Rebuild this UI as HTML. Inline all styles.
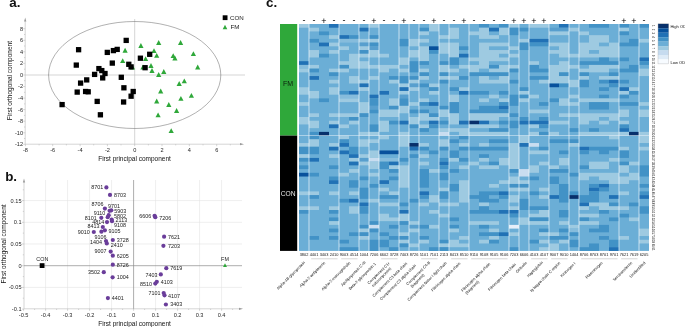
<!DOCTYPE html><html><head><meta charset="utf-8"><title>figure</title><style>html,body{margin:0;padding:0;background:#fff;}svg{display:block;will-change:transform;font-family:"Liberation Sans",sans-serif;}</style></head><body>
<svg width="685" height="327" viewBox="0 0 685 327">
<rect x="0" y="0" width="685" height="327" fill="#fff"/>
<g font-weight="bold" font-size="13.4px" fill="#111">
<text x="9.3" y="7.2">a.</text><text x="5.2" y="181">b.</text><text x="266" y="7.2">c.</text></g>
<g id="pa">
<g stroke="#b9b9b9" stroke-width="0.6" fill="none">
<line x1="25.2" y1="20" x2="25.2" y2="144.2"/>
<line x1="25.2" y1="144.2" x2="241" y2="144.2"/>
<line x1="25.2" y1="75.0" x2="245" y2="75.0"/>
<line x1="134.7" y1="19" x2="134.7" y2="144.2"/>
<line x1="23.2" y1="144.3" x2="25.2" y2="144.3"/>
<line x1="24.0" y1="138.5" x2="25.2" y2="138.5"/>
<line x1="23.2" y1="132.8" x2="25.2" y2="132.8"/>
<line x1="24.0" y1="127.0" x2="25.2" y2="127.0"/>
<line x1="23.2" y1="121.2" x2="25.2" y2="121.2"/>
<line x1="24.0" y1="115.4" x2="25.2" y2="115.4"/>
<line x1="23.2" y1="109.6" x2="25.2" y2="109.6"/>
<line x1="24.0" y1="103.9" x2="25.2" y2="103.9"/>
<line x1="23.2" y1="98.1" x2="25.2" y2="98.1"/>
<line x1="24.0" y1="92.3" x2="25.2" y2="92.3"/>
<line x1="23.2" y1="86.5" x2="25.2" y2="86.5"/>
<line x1="24.0" y1="80.7" x2="25.2" y2="80.7"/>
<line x1="23.2" y1="75.0" x2="25.2" y2="75.0"/>
<line x1="24.0" y1="69.2" x2="25.2" y2="69.2"/>
<line x1="23.2" y1="63.4" x2="25.2" y2="63.4"/>
<line x1="24.0" y1="57.6" x2="25.2" y2="57.6"/>
<line x1="23.2" y1="51.8" x2="25.2" y2="51.8"/>
<line x1="24.0" y1="46.0" x2="25.2" y2="46.0"/>
<line x1="23.2" y1="40.3" x2="25.2" y2="40.3"/>
<line x1="24.0" y1="34.5" x2="25.2" y2="34.5"/>
<line x1="23.2" y1="28.7" x2="25.2" y2="28.7"/>
<line x1="25.4" y1="144.2" x2="25.4" y2="146.2"/>
<line x1="39.1" y1="144.2" x2="39.1" y2="145.39999999999998"/>
<line x1="52.7" y1="144.2" x2="52.7" y2="146.2"/>
<line x1="66.4" y1="144.2" x2="66.4" y2="145.39999999999998"/>
<line x1="80.1" y1="144.2" x2="80.1" y2="146.2"/>
<line x1="93.7" y1="144.2" x2="93.7" y2="145.39999999999998"/>
<line x1="107.4" y1="144.2" x2="107.4" y2="146.2"/>
<line x1="121.0" y1="144.2" x2="121.0" y2="145.39999999999998"/>
<line x1="134.7" y1="144.2" x2="134.7" y2="146.2"/>
<line x1="148.4" y1="144.2" x2="148.4" y2="145.39999999999998"/>
<line x1="162.0" y1="144.2" x2="162.0" y2="146.2"/>
<line x1="175.7" y1="144.2" x2="175.7" y2="145.39999999999998"/>
<line x1="189.3" y1="144.2" x2="189.3" y2="146.2"/>
<line x1="203.0" y1="144.2" x2="203.0" y2="145.39999999999998"/>
<line x1="216.7" y1="144.2" x2="216.7" y2="146.2"/>
<line x1="230.3" y1="144.2" x2="230.3" y2="145.39999999999998"/>
</g>
<path d="M25.2 17.5 L26.3 21.5 L24.1 21.5 Z" fill="#9a9a9a"/>
<path d="M244 144.2 L240 143.1 L240 145.3 Z" fill="#9a9a9a"/>
<ellipse cx="134.7" cy="75.0" rx="86.1" ry="53.5" fill="none" stroke="#505050" stroke-width="0.45"/>
<g font-size="5.6px" fill="#262626">
<text x="23" y="146.2" text-anchor="end">-12</text>
<text x="23" y="134.7" text-anchor="end">-10</text>
<text x="23" y="123.1" text-anchor="end">-8</text>
<text x="23" y="111.5" text-anchor="end">-6</text>
<text x="23" y="100.0" text-anchor="end">-4</text>
<text x="23" y="88.4" text-anchor="end">-2</text>
<text x="23" y="76.9" text-anchor="end">0</text>
<text x="23" y="65.3" text-anchor="end">2</text>
<text x="23" y="53.7" text-anchor="end">4</text>
<text x="23" y="42.2" text-anchor="end">6</text>
<text x="23" y="30.6" text-anchor="end">8</text>
<text x="25.4" y="152.3" text-anchor="middle">-8</text>
<text x="52.7" y="152.3" text-anchor="middle">-6</text>
<text x="80.1" y="152.3" text-anchor="middle">-4</text>
<text x="107.4" y="152.3" text-anchor="middle">-2</text>
<text x="134.7" y="152.3" text-anchor="middle">0</text>
<text x="162.0" y="152.3" text-anchor="middle">2</text>
<text x="189.3" y="152.3" text-anchor="middle">4</text>
<text x="216.7" y="152.3" text-anchor="middle">6</text>
</g>
<g font-size="6.5px" fill="#111">
<text x="134.5" y="160.6" text-anchor="middle">First principal component</text>
<text transform="translate(11.6,80.6) rotate(-90)" text-anchor="middle">First orthogonal component</text>
</g>
<g fill="#2fa83a">
<path d="M125.1 47.8 L127.7 52.7 L122.5 52.7 Z"/>
<path d="M122.7 58.2 L125.3 63.1 L120.1 63.1 Z"/>
<path d="M140.9 43.1 L143.5 48.0 L138.3 48.0 Z"/>
<path d="M158.7 40.1 L161.3 45.0 L156.1 45.0 Z"/>
<path d="M180.6 40.1 L183.2 45.0 L178.0 45.0 Z"/>
<path d="M154.0 48.2 L156.6 53.1 L151.4 53.1 Z"/>
<path d="M156.7 52.9 L159.3 57.8 L154.1 57.8 Z"/>
<path d="M145.6 56.2 L148.2 61.1 L143.0 61.1 Z"/>
<path d="M173.2 53.2 L175.8 58.1 L170.6 58.1 Z"/>
<path d="M174.9 55.6 L177.5 60.5 L172.3 60.5 Z"/>
<path d="M193.4 51.2 L196.0 56.1 L190.8 56.1 Z"/>
<path d="M151.0 63.0 L153.6 67.9 L148.4 67.9 Z"/>
<path d="M152.0 68.0 L154.6 72.9 L149.4 72.9 Z"/>
<path d="M132.5 64.6 L135.1 69.5 L129.9 69.5 Z"/>
<path d="M143.0 64.5 L145.6 69.4 L140.4 69.4 Z"/>
<path d="M163.8 69.0 L166.4 73.9 L161.2 73.9 Z"/>
<path d="M158.7 72.0 L161.3 76.9 L156.1 76.9 Z"/>
<path d="M197.7 64.6 L200.3 69.5 L195.1 69.5 Z"/>
<path d="M184.3 78.4 L186.9 83.3 L181.7 83.3 Z"/>
<path d="M179.2 81.1 L181.8 86.0 L176.6 86.0 Z"/>
<path d="M160.7 88.5 L163.3 93.4 L158.1 93.4 Z"/>
<path d="M191.4 92.9 L194.0 97.8 L188.8 97.8 Z"/>
<path d="M180.9 95.9 L183.5 100.8 L178.3 100.8 Z"/>
<path d="M156.7 98.6 L159.3 103.5 L154.1 103.5 Z"/>
<path d="M168.8 102.0 L171.4 106.9 L166.2 106.9 Z"/>
<path d="M176.6 108.0 L179.2 112.9 L174.0 112.9 Z"/>
<path d="M158.1 112.4 L160.7 117.3 L155.5 117.3 Z"/>
<path d="M171.2 128.2 L173.8 133.1 L168.6 133.1 Z"/>
<path d="M225.0 24.8 L227.3 29.2 L222.7 29.2 Z"/>
</g>
<g fill="#000">
<rect x="123.55" y="37.75" width="5.3" height="5.3"/>
<rect x="75.95" y="47.05" width="5.3" height="5.3"/>
<rect x="104.65" y="49.75" width="5.3" height="5.3"/>
<rect x="110.75" y="47.95" width="5.3" height="5.3"/>
<rect x="114.55" y="46.75" width="5.3" height="5.3"/>
<rect x="73.65" y="62.45" width="5.3" height="5.3"/>
<rect x="109.65" y="60.45" width="5.3" height="5.3"/>
<rect x="137.75" y="55.55" width="5.3" height="5.3"/>
<rect x="147.05" y="51.65" width="5.3" height="5.3"/>
<rect x="126.15" y="61.65" width="5.3" height="5.3"/>
<rect x="128.45" y="64.25" width="5.3" height="5.3"/>
<rect x="142.45" y="65.05" width="5.3" height="5.3"/>
<rect x="96.25" y="65.95" width="5.3" height="5.3"/>
<rect x="99.15" y="67.95" width="5.3" height="5.3"/>
<rect x="102.35" y="70.85" width="5.3" height="5.3"/>
<rect x="91.95" y="71.75" width="5.3" height="5.3"/>
<rect x="100.05" y="75.25" width="5.3" height="5.3"/>
<rect x="84.05" y="77.25" width="5.3" height="5.3"/>
<rect x="77.95" y="80.45" width="5.3" height="5.3"/>
<rect x="118.65" y="74.65" width="5.3" height="5.3"/>
<rect x="121.25" y="85.15" width="5.3" height="5.3"/>
<rect x="74.55" y="89.45" width="5.3" height="5.3"/>
<rect x="82.95" y="88.85" width="5.3" height="5.3"/>
<rect x="85.55" y="89.15" width="5.3" height="5.3"/>
<rect x="130.55" y="88.85" width="5.3" height="5.3"/>
<rect x="128.45" y="93.55" width="5.3" height="5.3"/>
<rect x="94.55" y="98.75" width="5.3" height="5.3"/>
<rect x="120.95" y="99.35" width="5.3" height="5.3"/>
<rect x="59.45" y="101.95" width="5.3" height="5.3"/>
<rect x="97.75" y="112.15" width="5.3" height="5.3"/>
<rect x="222.7" y="15.3" width="4.8" height="4.8"/>
</g>
<g font-size="6.2px" fill="#222"><text x="230" y="20">CON</text><text x="230.6" y="29.4">FM</text></g>
</g>
<g id="pb">
<g stroke="#e3e3e3" stroke-width="0.6">
<line x1="45.6" y1="180" x2="45.6" y2="308.8"/>
<line x1="67.6" y1="180" x2="67.6" y2="308.8"/>
<line x1="89.6" y1="180" x2="89.6" y2="308.8"/>
<line x1="111.6" y1="180" x2="111.6" y2="308.8"/>
<line x1="155.6" y1="180" x2="155.6" y2="308.8"/>
<line x1="177.6" y1="180" x2="177.6" y2="308.8"/>
<line x1="199.6" y1="180" x2="199.6" y2="308.8"/>
<line x1="221.6" y1="180" x2="221.6" y2="308.8"/>
<line x1="24" y1="200.6" x2="242" y2="200.6"/>
<line x1="24" y1="222.3" x2="242" y2="222.3"/>
<line x1="24" y1="244.0" x2="242" y2="244.0"/>
<line x1="24" y1="287.4" x2="242" y2="287.4"/>
</g>
<g stroke="#b9b9b9" stroke-width="0.6">
<line x1="24" y1="181" x2="24" y2="308.8"/>
<line x1="24" y1="308.8" x2="240" y2="308.8"/>
<line x1="23.6" y1="308.8" x2="23.6" y2="310.8"/>
<line x1="34.6" y1="308.8" x2="34.6" y2="310.0"/>
<line x1="45.6" y1="308.8" x2="45.6" y2="310.8"/>
<line x1="56.6" y1="308.8" x2="56.6" y2="310.0"/>
<line x1="67.6" y1="308.8" x2="67.6" y2="310.8"/>
<line x1="78.6" y1="308.8" x2="78.6" y2="310.0"/>
<line x1="89.6" y1="308.8" x2="89.6" y2="310.8"/>
<line x1="100.6" y1="308.8" x2="100.6" y2="310.0"/>
<line x1="111.6" y1="308.8" x2="111.6" y2="310.8"/>
<line x1="122.6" y1="308.8" x2="122.6" y2="310.0"/>
<line x1="133.6" y1="308.8" x2="133.6" y2="310.8"/>
<line x1="144.6" y1="308.8" x2="144.6" y2="310.0"/>
<line x1="155.6" y1="308.8" x2="155.6" y2="310.8"/>
<line x1="166.6" y1="308.8" x2="166.6" y2="310.0"/>
<line x1="177.6" y1="308.8" x2="177.6" y2="310.8"/>
<line x1="188.6" y1="308.8" x2="188.6" y2="310.0"/>
<line x1="199.6" y1="308.8" x2="199.6" y2="310.8"/>
<line x1="210.6" y1="308.8" x2="210.6" y2="310.0"/>
<line x1="221.6" y1="308.8" x2="221.6" y2="310.8"/>
<line x1="232.6" y1="308.8" x2="232.6" y2="310.0"/>
<line x1="22.0" y1="309.1" x2="24" y2="309.1"/>
<line x1="22.8" y1="298.2" x2="24" y2="298.2"/>
<line x1="22.0" y1="287.4" x2="24" y2="287.4"/>
<line x1="22.8" y1="276.6" x2="24" y2="276.6"/>
<line x1="22.0" y1="265.7" x2="24" y2="265.7"/>
<line x1="22.8" y1="254.8" x2="24" y2="254.8"/>
<line x1="22.0" y1="244.0" x2="24" y2="244.0"/>
<line x1="22.8" y1="233.1" x2="24" y2="233.1"/>
<line x1="22.0" y1="222.3" x2="24" y2="222.3"/>
<line x1="22.8" y1="211.4" x2="24" y2="211.4"/>
<line x1="22.0" y1="200.6" x2="24" y2="200.6"/>
<line x1="22.8" y1="189.8" x2="24" y2="189.8"/>
</g>
<g stroke="#8a8a8a" stroke-width="0.7">
<line x1="24" y1="265.7" x2="242" y2="265.7"/>
<line x1="133.6" y1="180" x2="133.6" y2="308.8"/>
</g>
<path d="M24 178.5 L25.1 182.5 L22.9 182.5 Z" fill="#9a9a9a"/>
<path d="M243 308.8 L239 307.7 L239 309.9 Z" fill="#9a9a9a"/>
<g font-size="5.6px" fill="#262626">
<text x="21.5" y="202.5" text-anchor="end">0.15</text>
<text x="21.5" y="224.2" text-anchor="end">0.1</text>
<text x="21.5" y="245.9" text-anchor="end">0.05</text>
<text x="21.5" y="267.6" text-anchor="end">0</text>
<text x="21.5" y="289.3" text-anchor="end">-0.05</text>
<text x="21.5" y="311.0" text-anchor="end">-0.1</text>
<text x="23.6" y="316.8" text-anchor="middle">-0.5</text>
<text x="45.6" y="316.8" text-anchor="middle">-0.4</text>
<text x="67.6" y="316.8" text-anchor="middle">-0.3</text>
<text x="89.6" y="316.8" text-anchor="middle">-0.2</text>
<text x="111.6" y="316.8" text-anchor="middle">-0.1</text>
<text x="133.6" y="316.8" text-anchor="middle">0</text>
<text x="155.6" y="316.8" text-anchor="middle">0.1</text>
<text x="177.6" y="316.8" text-anchor="middle">0.2</text>
<text x="199.6" y="316.8" text-anchor="middle">0.3</text>
<text x="221.6" y="316.8" text-anchor="middle">0.4</text>
</g>
<g font-size="6.5px" fill="#111">
<text x="134.5" y="325.6" text-anchor="middle">First principal component</text>
<text transform="translate(6.2,244) rotate(-90)" text-anchor="middle">First orthogonal component</text>
</g>
<g fill="#6a3d9a">
<circle cx="106.4" cy="187.4" r="2.1"/>
<circle cx="110.0" cy="194.9" r="2.1"/>
<circle cx="104.9" cy="208.6" r="2.1"/>
<circle cx="111.3" cy="210.3" r="2.1"/>
<circle cx="109.6" cy="210.8" r="2.1"/>
<circle cx="108.7" cy="215.2" r="2.1"/>
<circle cx="107.7" cy="217.2" r="2.1"/>
<circle cx="101.3" cy="217.8" r="2.1"/>
<circle cx="111.7" cy="219.5" r="2.1"/>
<circle cx="107.0" cy="222.1" r="2.1"/>
<circle cx="112.0" cy="221.2" r="2.1"/>
<circle cx="102.8" cy="227.0" r="2.1"/>
<circle cx="104.9" cy="230.3" r="2.1"/>
<circle cx="93.8" cy="232.0" r="2.1"/>
<circle cx="101.4" cy="231.7" r="2.1"/>
<circle cx="112.8" cy="240.0" r="2.1"/>
<circle cx="106.0" cy="241.0" r="2.1"/>
<circle cx="106.8" cy="243.4" r="2.1"/>
<circle cx="110.7" cy="251.6" r="2.1"/>
<circle cx="112.8" cy="255.7" r="2.1"/>
<circle cx="112.8" cy="264.7" r="2.1"/>
<circle cx="103.8" cy="272.2" r="2.1"/>
<circle cx="112.6" cy="277.3" r="2.1"/>
<circle cx="107.9" cy="298.1" r="2.1"/>
<circle cx="154.6" cy="215.8" r="2.1"/>
<circle cx="155.3" cy="217.2" r="2.1"/>
<circle cx="164.1" cy="236.7" r="2.1"/>
<circle cx="163.4" cy="245.8" r="2.1"/>
<circle cx="166.3" cy="268.2" r="2.1"/>
<circle cx="160.8" cy="274.4" r="2.1"/>
<circle cx="156.8" cy="281.8" r="2.1"/>
<circle cx="155.3" cy="283.6" r="2.1"/>
<circle cx="163.7" cy="293.1" r="2.1"/>
<circle cx="164.5" cy="295.3" r="2.1"/>
<circle cx="165.9" cy="304.5" r="2.1"/>
</g>
<g font-size="5.4px" fill="#1a1a1a">
<text x="103.2" y="189.2" text-anchor="end">8701</text>
<text x="113.9" y="196.7" text-anchor="start">8703</text>
<text x="103.6" y="206.1" text-anchor="end">8706</text>
<text x="108.1" y="207.8" text-anchor="start">9701</text>
<text x="114.3" y="212.8" text-anchor="start">5903</text>
<text x="105.3" y="214.9" text-anchor="end">9110</text>
<text x="113.9" y="217.5" text-anchor="start">5802</text>
<text x="96.8" y="219.6" text-anchor="end">8101</text>
<text x="115.6" y="221.8" text-anchor="start">2113</text>
<text x="104.3" y="223.5" text-anchor="end">4814</text>
<text x="113.9" y="227.1" text-anchor="start">9108</text>
<text x="99.5" y="228.2" text-anchor="end">8413</text>
<text x="108.5" y="232.9" text-anchor="start">9105</text>
<text x="89.7" y="234.0" text-anchor="end">9010</text>
<text x="106.6" y="238.6" text-anchor="end">9106</text>
<text x="116.7" y="241.8" text-anchor="start">3728</text>
<text x="101.9" y="243.5" text-anchor="end">1404</text>
<text x="110.7" y="247.4" text-anchor="start">2410</text>
<text x="106.4" y="253.4" text-anchor="end">9007</text>
<text x="116.7" y="257.9" text-anchor="start">6205</text>
<text x="116.7" y="266.7" text-anchor="start">8726</text>
<text x="100.0" y="274.0" text-anchor="end">3502</text>
<text x="116.7" y="279.1" text-anchor="start">1004</text>
<text x="111.7" y="299.9" text-anchor="start">4401</text>
<text x="151.3" y="218.3" text-anchor="end">6606</text>
<text x="159.3" y="219.8" text-anchor="start">7206</text>
<text x="168.1" y="238.8" text-anchor="start">7621</text>
<text x="168.1" y="248.0" text-anchor="start">7203</text>
<text x="170.3" y="270.4" text-anchor="start">7619</text>
<text x="157.5" y="276.6" text-anchor="end">7403</text>
<text x="160.8" y="283.6" text-anchor="start">4103</text>
<text x="152.0" y="285.8" text-anchor="end">8510</text>
<text x="160.4" y="294.9" text-anchor="end">7101</text>
<text x="168.1" y="297.9" text-anchor="start">4107</text>
<text x="170.3" y="305.9" text-anchor="start">3403</text>
<text x="42.3" y="261" text-anchor="middle">CON</text><text x="225" y="260.5" text-anchor="middle">FM</text>
</g>
<rect x="39.7" y="263.2" width="4.8" height="4.8" fill="#000"/>
<g fill="#2fa83a"><path d="M225.0 263.2 L227.0 267.0 L223.0 267.0 Z"/></g>
</g>
<g id="hm">
<rect x="280" y="24" width="17.2" height="111.6" fill="#2fa83a"/>
<rect x="280" y="135.6" width="17.2" height="115.3" fill="#000"/>
<text x="288.1" y="86" font-size="7px" text-anchor="middle" fill="#0a1f0c">FM</text>
<text x="288.1" y="196" font-size="6.7px" text-anchor="middle" fill="#e6e6e6">CON</text>
<rect x="299.0" y="24.0" width="350.0" height="226.92" fill="#6baed6"/>
<rect x="299" y="24.00" width="10" height="3.72" fill="#9ecae1"/>
<rect x="299" y="61.20" width="10" height="3.72" fill="#2171b5"/>
<rect x="299" y="64.92" width="10" height="3.72" fill="#86bcdc"/>
<rect x="299" y="68.64" width="10" height="3.72" fill="#9ecae1"/>
<rect x="299" y="87.24" width="10" height="7.44" fill="#9ecae1"/>
<rect x="299" y="102.12" width="10" height="3.72" fill="#9ecae1"/>
<rect x="299" y="117.00" width="10" height="7.44" fill="#9ecae1"/>
<rect x="299" y="143.04" width="10" height="3.72" fill="#9ecae1"/>
<rect x="299" y="146.76" width="10" height="7.44" fill="#4292c6"/>
<rect x="299" y="154.20" width="10" height="3.72" fill="#9ecae1"/>
<rect x="299" y="157.92" width="10" height="3.72" fill="#4292c6"/>
<rect x="299" y="165.36" width="10" height="3.72" fill="#4292c6"/>
<rect x="299" y="172.80" width="10" height="3.72" fill="#08519c"/>
<rect x="299" y="191.40" width="10" height="3.72" fill="#9ecae1"/>
<rect x="299" y="206.28" width="10" height="3.72" fill="#9ecae1"/>
<rect x="299" y="210.00" width="10" height="3.72" fill="#4292c6"/>
<rect x="309" y="27.72" width="10" height="3.72" fill="#9ecae1"/>
<rect x="309" y="38.88" width="10" height="3.72" fill="#4292c6"/>
<rect x="309" y="50.04" width="10" height="7.44" fill="#9ecae1"/>
<rect x="309" y="64.92" width="10" height="3.72" fill="#9ecae1"/>
<rect x="309" y="68.64" width="10" height="3.72" fill="#4292c6"/>
<rect x="309" y="76.08" width="10" height="3.72" fill="#2171b5"/>
<rect x="309" y="90.96" width="10" height="7.44" fill="#9ecae1"/>
<rect x="309" y="113.28" width="10" height="3.72" fill="#9ecae1"/>
<rect x="309" y="120.72" width="10" height="7.44" fill="#9ecae1"/>
<rect x="309" y="131.88" width="10" height="7.44" fill="#4292c6"/>
<rect x="309" y="139.32" width="10" height="7.44" fill="#9ecae1"/>
<rect x="309" y="146.76" width="10" height="7.44" fill="#4292c6"/>
<rect x="309" y="157.92" width="10" height="3.72" fill="#2171b5"/>
<rect x="309" y="172.80" width="10" height="3.72" fill="#4292c6"/>
<rect x="309" y="191.40" width="10" height="3.72" fill="#9ecae1"/>
<rect x="309" y="195.12" width="10" height="3.72" fill="#4292c6"/>
<rect x="309" y="206.28" width="10" height="3.72" fill="#9ecae1"/>
<rect x="309" y="236.04" width="10" height="3.72" fill="#4292c6"/>
<rect x="319" y="31.44" width="10" height="3.72" fill="#4292c6"/>
<rect x="319" y="42.60" width="10" height="3.72" fill="#2171b5"/>
<rect x="319" y="53.76" width="10" height="3.72" fill="#4292c6"/>
<rect x="319" y="98.40" width="10" height="3.72" fill="#4292c6"/>
<rect x="319" y="131.88" width="10" height="3.72" fill="#08306b"/>
<rect x="329" y="24.00" width="10" height="3.72" fill="#2171b5"/>
<rect x="329" y="35.16" width="10" height="3.72" fill="#9ecae1"/>
<rect x="329" y="42.60" width="10" height="3.72" fill="#9ecae1"/>
<rect x="329" y="50.04" width="10" height="3.72" fill="#9ecae1"/>
<rect x="329" y="68.64" width="10" height="3.72" fill="#9ecae1"/>
<rect x="329" y="72.36" width="10" height="3.72" fill="#4292c6"/>
<rect x="329" y="79.80" width="10" height="3.72" fill="#9ecae1"/>
<rect x="329" y="87.24" width="10" height="7.44" fill="#9ecae1"/>
<rect x="329" y="113.28" width="10" height="3.72" fill="#9ecae1"/>
<rect x="329" y="120.72" width="10" height="3.72" fill="#9ecae1"/>
<rect x="329" y="124.44" width="10" height="3.72" fill="#2171b5"/>
<rect x="329" y="143.04" width="10" height="3.72" fill="#9ecae1"/>
<rect x="329" y="146.76" width="10" height="3.72" fill="#2171b5"/>
<rect x="329" y="154.20" width="10" height="3.72" fill="#9ecae1"/>
<rect x="329" y="165.36" width="10" height="3.72" fill="#4292c6"/>
<rect x="329" y="176.52" width="10" height="3.72" fill="#4292c6"/>
<rect x="329" y="180.24" width="10" height="3.72" fill="#2171b5"/>
<rect x="329" y="191.40" width="10" height="3.72" fill="#9ecae1"/>
<rect x="329" y="206.28" width="10" height="3.72" fill="#9ecae1"/>
<rect x="329" y="210.00" width="10" height="3.72" fill="#4292c6"/>
<rect x="329" y="217.44" width="10" height="3.72" fill="#4292c6"/>
<rect x="329" y="221.16" width="10" height="3.72" fill="#9ecae1"/>
<rect x="329" y="228.60" width="10" height="3.72" fill="#4292c6"/>
<rect x="329" y="236.04" width="10" height="3.72" fill="#4292c6"/>
<rect x="339" y="35.16" width="10" height="3.72" fill="#2171b5"/>
<rect x="339" y="38.88" width="10" height="3.72" fill="#86bcdc"/>
<rect x="339" y="46.32" width="10" height="3.72" fill="#9ecae1"/>
<rect x="339" y="61.20" width="10" height="3.72" fill="#9ecae1"/>
<rect x="339" y="64.92" width="10" height="3.72" fill="#4292c6"/>
<rect x="339" y="68.64" width="10" height="3.72" fill="#9ecae1"/>
<rect x="339" y="90.96" width="10" height="3.72" fill="#4292c6"/>
<rect x="339" y="94.68" width="10" height="3.72" fill="#86bcdc"/>
<rect x="339" y="98.40" width="10" height="3.72" fill="#9ecae1"/>
<rect x="339" y="113.28" width="10" height="3.72" fill="#9ecae1"/>
<rect x="339" y="124.44" width="10" height="3.72" fill="#9ecae1"/>
<rect x="339" y="135.60" width="10" height="3.72" fill="#9ecae1"/>
<rect x="339" y="139.32" width="10" height="3.72" fill="#4292c6"/>
<rect x="339" y="143.04" width="10" height="3.72" fill="#2171b5"/>
<rect x="339" y="150.48" width="10" height="3.72" fill="#2171b5"/>
<rect x="339" y="172.80" width="10" height="3.72" fill="#9ecae1"/>
<rect x="339" y="198.84" width="10" height="3.72" fill="#4292c6"/>
<rect x="339" y="239.76" width="10" height="3.72" fill="#4292c6"/>
<rect x="339" y="247.20" width="10" height="3.72" fill="#4292c6"/>
<rect x="349" y="35.16" width="10" height="3.72" fill="#4292c6"/>
<rect x="349" y="38.88" width="10" height="3.72" fill="#86bcdc"/>
<rect x="349" y="53.76" width="10" height="14.88" fill="#9ecae1"/>
<rect x="349" y="76.08" width="10" height="7.44" fill="#9ecae1"/>
<rect x="349" y="90.96" width="10" height="3.72" fill="#2171b5"/>
<rect x="349" y="94.68" width="10" height="3.72" fill="#86bcdc"/>
<rect x="349" y="98.40" width="10" height="3.72" fill="#9ecae1"/>
<rect x="349" y="113.28" width="10" height="3.72" fill="#9ecae1"/>
<rect x="349" y="117.00" width="10" height="3.72" fill="#4292c6"/>
<rect x="349" y="120.72" width="10" height="3.72" fill="#9ecae1"/>
<rect x="349" y="146.76" width="10" height="7.44" fill="#4292c6"/>
<rect x="349" y="154.20" width="10" height="3.72" fill="#2171b5"/>
<rect x="349" y="157.92" width="10" height="3.72" fill="#9ecae1"/>
<rect x="349" y="161.64" width="10" height="3.72" fill="#2171b5"/>
<rect x="349" y="169.08" width="10" height="3.72" fill="#9ecae1"/>
<rect x="349" y="180.24" width="10" height="7.44" fill="#4292c6"/>
<rect x="349" y="191.40" width="10" height="3.72" fill="#9ecae1"/>
<rect x="349" y="198.84" width="10" height="3.72" fill="#2171b5"/>
<rect x="349" y="206.28" width="10" height="7.44" fill="#9ecae1"/>
<rect x="349" y="232.32" width="10" height="3.72" fill="#4292c6"/>
<rect x="349" y="247.20" width="10" height="3.72" fill="#4292c6"/>
<rect x="359" y="27.72" width="10" height="3.72" fill="#2171b5"/>
<rect x="359" y="38.88" width="10" height="3.72" fill="#9ecae1"/>
<rect x="359" y="42.60" width="10" height="3.72" fill="#589fce"/>
<rect x="359" y="46.32" width="10" height="3.72" fill="#9ecae1"/>
<rect x="359" y="50.04" width="10" height="3.72" fill="#4292c6"/>
<rect x="359" y="53.76" width="10" height="3.72" fill="#9ecae1"/>
<rect x="359" y="61.20" width="10" height="7.44" fill="#9ecae1"/>
<rect x="359" y="79.80" width="10" height="3.72" fill="#9ecae1"/>
<rect x="359" y="83.52" width="10" height="3.72" fill="#2171b5"/>
<rect x="359" y="87.24" width="10" height="3.72" fill="#9ecae1"/>
<rect x="359" y="102.12" width="10" height="11.16" fill="#9ecae1"/>
<rect x="359" y="113.28" width="10" height="3.72" fill="#4292c6"/>
<rect x="359" y="131.88" width="10" height="3.72" fill="#9ecae1"/>
<rect x="359" y="139.32" width="10" height="7.44" fill="#9ecae1"/>
<rect x="359" y="154.20" width="10" height="3.72" fill="#9ecae1"/>
<rect x="359" y="157.92" width="10" height="3.72" fill="#589fce"/>
<rect x="359" y="161.64" width="10" height="3.72" fill="#9ecae1"/>
<rect x="359" y="176.52" width="10" height="3.72" fill="#4292c6"/>
<rect x="359" y="187.68" width="10" height="11.16" fill="#4292c6"/>
<rect x="359" y="202.56" width="10" height="3.72" fill="#2171b5"/>
<rect x="359" y="206.28" width="10" height="7.44" fill="#4292c6"/>
<rect x="359" y="224.88" width="10" height="3.72" fill="#4292c6"/>
<rect x="359" y="228.60" width="10" height="3.72" fill="#9ecae1"/>
<rect x="359" y="232.32" width="10" height="3.72" fill="#4292c6"/>
<rect x="359" y="236.04" width="10" height="3.72" fill="#9ecae1"/>
<rect x="369" y="24.00" width="10" height="3.72" fill="#9ecae1"/>
<rect x="369" y="35.16" width="10" height="3.72" fill="#4292c6"/>
<rect x="369" y="38.88" width="10" height="3.72" fill="#9ecae1"/>
<rect x="369" y="42.60" width="10" height="3.72" fill="#4292c6"/>
<rect x="369" y="46.32" width="10" height="3.72" fill="#589fce"/>
<rect x="369" y="50.04" width="10" height="7.44" fill="#9ecae1"/>
<rect x="369" y="64.92" width="10" height="3.72" fill="#9ecae1"/>
<rect x="369" y="76.08" width="10" height="3.72" fill="#9ecae1"/>
<rect x="369" y="94.68" width="10" height="3.72" fill="#2171b5"/>
<rect x="369" y="98.40" width="10" height="7.44" fill="#4292c6"/>
<rect x="369" y="105.84" width="10" height="3.72" fill="#589fce"/>
<rect x="369" y="109.56" width="10" height="3.72" fill="#4292c6"/>
<rect x="369" y="124.44" width="10" height="7.44" fill="#4292c6"/>
<rect x="369" y="131.88" width="10" height="3.72" fill="#9ecae1"/>
<rect x="369" y="139.32" width="10" height="3.72" fill="#9ecae1"/>
<rect x="369" y="150.48" width="10" height="7.44" fill="#9ecae1"/>
<rect x="369" y="157.92" width="10" height="3.72" fill="#c9ddf0"/>
<rect x="369" y="161.64" width="10" height="7.44" fill="#9ecae1"/>
<rect x="369" y="172.80" width="10" height="3.72" fill="#9ecae1"/>
<rect x="369" y="183.96" width="10" height="3.72" fill="#4292c6"/>
<rect x="369" y="198.84" width="10" height="3.72" fill="#9ecae1"/>
<rect x="369" y="221.16" width="10" height="3.72" fill="#4292c6"/>
<rect x="369" y="224.88" width="10" height="3.72" fill="#c9ddf0"/>
<rect x="369" y="228.60" width="10" height="3.72" fill="#4292c6"/>
<rect x="369" y="239.76" width="10" height="11.16" fill="#4292c6"/>
<rect x="379" y="53.76" width="10" height="3.72" fill="#9ecae1"/>
<rect x="379" y="64.92" width="10" height="7.44" fill="#9ecae1"/>
<rect x="379" y="90.96" width="10" height="3.72" fill="#2171b5"/>
<rect x="379" y="109.56" width="10" height="7.44" fill="#9ecae1"/>
<rect x="379" y="120.72" width="10" height="11.16" fill="#9ecae1"/>
<rect x="379" y="135.60" width="10" height="3.72" fill="#9ecae1"/>
<rect x="379" y="150.48" width="10" height="3.72" fill="#08519c"/>
<rect x="379" y="157.92" width="10" height="3.72" fill="#86bcdc"/>
<rect x="379" y="161.64" width="10" height="7.44" fill="#4292c6"/>
<rect x="379" y="180.24" width="10" height="3.72" fill="#2171b5"/>
<rect x="379" y="187.68" width="10" height="3.72" fill="#9ecae1"/>
<rect x="379" y="195.12" width="10" height="3.72" fill="#4292c6"/>
<rect x="379" y="202.56" width="10" height="3.72" fill="#9ecae1"/>
<rect x="379" y="213.72" width="10" height="7.44" fill="#9ecae1"/>
<rect x="379" y="232.32" width="10" height="3.72" fill="#4292c6"/>
<rect x="379" y="239.76" width="10" height="7.44" fill="#4292c6"/>
<rect x="389" y="64.92" width="10" height="3.72" fill="#9ecae1"/>
<rect x="389" y="76.08" width="10" height="3.72" fill="#4292c6"/>
<rect x="389" y="79.80" width="10" height="3.72" fill="#9ecae1"/>
<rect x="389" y="98.40" width="10" height="7.44" fill="#9ecae1"/>
<rect x="389" y="105.84" width="10" height="3.72" fill="#4292c6"/>
<rect x="389" y="109.56" width="10" height="7.44" fill="#9ecae1"/>
<rect x="389" y="120.72" width="10" height="3.72" fill="#4292c6"/>
<rect x="389" y="150.48" width="10" height="3.72" fill="#08519c"/>
<rect x="389" y="157.92" width="10" height="3.72" fill="#86bcdc"/>
<rect x="389" y="161.64" width="10" height="3.72" fill="#2171b5"/>
<rect x="389" y="165.36" width="10" height="3.72" fill="#9ecae1"/>
<rect x="389" y="169.08" width="10" height="3.72" fill="#4292c6"/>
<rect x="389" y="176.52" width="10" height="3.72" fill="#4292c6"/>
<rect x="389" y="191.40" width="10" height="3.72" fill="#9ecae1"/>
<rect x="389" y="195.12" width="10" height="3.72" fill="#4292c6"/>
<rect x="389" y="202.56" width="10" height="3.72" fill="#9ecae1"/>
<rect x="389" y="217.44" width="10" height="3.72" fill="#9ecae1"/>
<rect x="389" y="224.88" width="10" height="3.72" fill="#4292c6"/>
<rect x="389" y="236.04" width="10" height="3.72" fill="#4292c6"/>
<rect x="389" y="247.20" width="10" height="3.72" fill="#4292c6"/>
<rect x="399" y="38.88" width="10" height="7.44" fill="#4292c6"/>
<rect x="399" y="57.48" width="10" height="7.44" fill="#9ecae1"/>
<rect x="399" y="68.64" width="10" height="3.72" fill="#9ecae1"/>
<rect x="399" y="76.08" width="10" height="7.44" fill="#4292c6"/>
<rect x="399" y="83.52" width="10" height="3.72" fill="#9ecae1"/>
<rect x="399" y="87.24" width="10" height="3.72" fill="#2171b5"/>
<rect x="399" y="90.96" width="10" height="3.72" fill="#9ecae1"/>
<rect x="399" y="94.68" width="10" height="3.72" fill="#589fce"/>
<rect x="399" y="98.40" width="10" height="7.44" fill="#4292c6"/>
<rect x="399" y="105.84" width="10" height="7.44" fill="#9ecae1"/>
<rect x="399" y="120.72" width="10" height="3.72" fill="#2171b5"/>
<rect x="399" y="131.88" width="10" height="14.88" fill="#9ecae1"/>
<rect x="399" y="157.92" width="10" height="3.72" fill="#4292c6"/>
<rect x="399" y="165.36" width="10" height="22.32" fill="#9ecae1"/>
<rect x="399" y="202.56" width="10" height="3.72" fill="#4292c6"/>
<rect x="399" y="210.00" width="10" height="3.72" fill="#2171b5"/>
<rect x="399" y="213.72" width="10" height="7.44" fill="#9ecae1"/>
<rect x="399" y="221.16" width="10" height="3.72" fill="#4292c6"/>
<rect x="399" y="232.32" width="10" height="3.72" fill="#9ecae1"/>
<rect x="399" y="236.04" width="10" height="3.72" fill="#4292c6"/>
<rect x="399" y="239.76" width="10" height="3.72" fill="#9ecae1"/>
<rect x="399" y="243.48" width="10" height="3.72" fill="#4292c6"/>
<rect x="409" y="38.88" width="10" height="7.44" fill="#9ecae1"/>
<rect x="409" y="50.04" width="10" height="7.44" fill="#9ecae1"/>
<rect x="409" y="61.20" width="10" height="11.16" fill="#4292c6"/>
<rect x="409" y="76.08" width="10" height="3.72" fill="#4292c6"/>
<rect x="409" y="79.80" width="10" height="3.72" fill="#9ecae1"/>
<rect x="409" y="83.52" width="10" height="3.72" fill="#589fce"/>
<rect x="409" y="87.24" width="10" height="3.72" fill="#9ecae1"/>
<rect x="409" y="102.12" width="10" height="3.72" fill="#9ecae1"/>
<rect x="409" y="109.56" width="10" height="3.72" fill="#4292c6"/>
<rect x="409" y="117.00" width="10" height="7.44" fill="#9ecae1"/>
<rect x="409" y="124.44" width="10" height="3.72" fill="#4292c6"/>
<rect x="409" y="143.04" width="10" height="3.72" fill="#08306b"/>
<rect x="409" y="146.76" width="10" height="3.72" fill="#2171b5"/>
<rect x="409" y="154.20" width="10" height="3.72" fill="#4292c6"/>
<rect x="409" y="198.84" width="10" height="3.72" fill="#4292c6"/>
<rect x="409" y="221.16" width="10" height="3.72" fill="#9ecae1"/>
<rect x="409" y="224.88" width="10" height="3.72" fill="#589fce"/>
<rect x="409" y="228.60" width="10" height="3.72" fill="#9ecae1"/>
<rect x="409" y="243.48" width="10" height="3.72" fill="#9ecae1"/>
<rect x="419" y="27.72" width="10" height="3.72" fill="#4292c6"/>
<rect x="419" y="31.44" width="10" height="3.72" fill="#9ecae1"/>
<rect x="419" y="38.88" width="10" height="3.72" fill="#9ecae1"/>
<rect x="419" y="46.32" width="10" height="14.88" fill="#9ecae1"/>
<rect x="419" y="61.20" width="10" height="3.72" fill="#4292c6"/>
<rect x="419" y="68.64" width="10" height="3.72" fill="#9ecae1"/>
<rect x="419" y="72.36" width="10" height="3.72" fill="#4292c6"/>
<rect x="419" y="76.08" width="10" height="3.72" fill="#9ecae1"/>
<rect x="419" y="83.52" width="10" height="3.72" fill="#4292c6"/>
<rect x="419" y="98.40" width="10" height="3.72" fill="#9ecae1"/>
<rect x="419" y="102.12" width="10" height="3.72" fill="#4292c6"/>
<rect x="419" y="109.56" width="10" height="3.72" fill="#4292c6"/>
<rect x="419" y="113.28" width="10" height="7.44" fill="#9ecae1"/>
<rect x="419" y="124.44" width="10" height="3.72" fill="#9ecae1"/>
<rect x="419" y="128.16" width="10" height="3.72" fill="#4292c6"/>
<rect x="419" y="143.04" width="10" height="3.72" fill="#9ecae1"/>
<rect x="419" y="146.76" width="10" height="3.72" fill="#4292c6"/>
<rect x="419" y="154.20" width="10" height="3.72" fill="#9ecae1"/>
<rect x="419" y="161.64" width="10" height="3.72" fill="#9ecae1"/>
<rect x="419" y="169.08" width="10" height="18.60" fill="#4292c6"/>
<rect x="419" y="191.40" width="10" height="3.72" fill="#2171b5"/>
<rect x="419" y="195.12" width="10" height="3.72" fill="#4292c6"/>
<rect x="419" y="202.56" width="10" height="3.72" fill="#9ecae1"/>
<rect x="419" y="224.88" width="10" height="3.72" fill="#4292c6"/>
<rect x="419" y="236.04" width="10" height="3.72" fill="#4292c6"/>
<rect x="419" y="239.76" width="10" height="3.72" fill="#9ecae1"/>
<rect x="429" y="24.00" width="10" height="7.44" fill="#9ecae1"/>
<rect x="429" y="46.32" width="10" height="3.72" fill="#08519c"/>
<rect x="429" y="50.04" width="10" height="3.72" fill="#4292c6"/>
<rect x="429" y="83.52" width="10" height="3.72" fill="#9ecae1"/>
<rect x="429" y="87.24" width="10" height="3.72" fill="#4292c6"/>
<rect x="429" y="90.96" width="10" height="3.72" fill="#9ecae1"/>
<rect x="429" y="102.12" width="10" height="3.72" fill="#2171b5"/>
<rect x="429" y="113.28" width="10" height="3.72" fill="#4292c6"/>
<rect x="429" y="117.00" width="10" height="3.72" fill="#9ecae1"/>
<rect x="429" y="120.72" width="10" height="3.72" fill="#2171b5"/>
<rect x="429" y="124.44" width="10" height="3.72" fill="#4292c6"/>
<rect x="429" y="150.48" width="10" height="3.72" fill="#4292c6"/>
<rect x="429" y="169.08" width="10" height="3.72" fill="#9ecae1"/>
<rect x="429" y="195.12" width="10" height="7.44" fill="#9ecae1"/>
<rect x="429" y="210.00" width="10" height="3.72" fill="#9ecae1"/>
<rect x="429" y="224.88" width="10" height="3.72" fill="#9ecae1"/>
<rect x="429" y="247.20" width="10" height="3.72" fill="#4292c6"/>
<rect x="439" y="35.16" width="10" height="3.72" fill="#9ecae1"/>
<rect x="439" y="42.60" width="10" height="11.16" fill="#9ecae1"/>
<rect x="439" y="61.20" width="10" height="3.72" fill="#4292c6"/>
<rect x="439" y="64.92" width="10" height="7.44" fill="#9ecae1"/>
<rect x="439" y="72.36" width="10" height="3.72" fill="#4292c6"/>
<rect x="439" y="76.08" width="10" height="3.72" fill="#9ecae1"/>
<rect x="439" y="79.80" width="10" height="3.72" fill="#4292c6"/>
<rect x="439" y="105.84" width="10" height="3.72" fill="#4292c6"/>
<rect x="439" y="109.56" width="10" height="7.44" fill="#9ecae1"/>
<rect x="439" y="120.72" width="10" height="3.72" fill="#4292c6"/>
<rect x="439" y="128.16" width="10" height="3.72" fill="#9ecae1"/>
<rect x="439" y="131.88" width="10" height="3.72" fill="#c9ddf0"/>
<rect x="439" y="139.32" width="10" height="7.44" fill="#9ecae1"/>
<rect x="439" y="146.76" width="10" height="3.72" fill="#4292c6"/>
<rect x="439" y="157.92" width="10" height="3.72" fill="#4292c6"/>
<rect x="439" y="161.64" width="10" height="3.72" fill="#2171b5"/>
<rect x="439" y="165.36" width="10" height="3.72" fill="#4292c6"/>
<rect x="439" y="172.80" width="10" height="7.44" fill="#4292c6"/>
<rect x="439" y="187.68" width="10" height="3.72" fill="#9ecae1"/>
<rect x="439" y="191.40" width="10" height="7.44" fill="#4292c6"/>
<rect x="439" y="202.56" width="10" height="3.72" fill="#9ecae1"/>
<rect x="439" y="213.72" width="10" height="3.72" fill="#9ecae1"/>
<rect x="439" y="239.76" width="10" height="3.72" fill="#4292c6"/>
<rect x="439" y="243.48" width="10" height="3.72" fill="#9ecae1"/>
<rect x="439" y="247.20" width="10" height="3.72" fill="#4292c6"/>
<rect x="449" y="27.72" width="10" height="11.16" fill="#9ecae1"/>
<rect x="449" y="42.60" width="10" height="14.88" fill="#9ecae1"/>
<rect x="449" y="57.48" width="10" height="7.44" fill="#4292c6"/>
<rect x="449" y="68.64" width="10" height="3.72" fill="#9ecae1"/>
<rect x="449" y="76.08" width="10" height="3.72" fill="#9ecae1"/>
<rect x="449" y="87.24" width="10" height="3.72" fill="#4292c6"/>
<rect x="449" y="94.68" width="10" height="7.44" fill="#9ecae1"/>
<rect x="449" y="102.12" width="10" height="11.16" fill="#4292c6"/>
<rect x="449" y="113.28" width="10" height="11.16" fill="#9ecae1"/>
<rect x="449" y="128.16" width="10" height="3.72" fill="#9ecae1"/>
<rect x="449" y="139.32" width="10" height="3.72" fill="#4292c6"/>
<rect x="449" y="150.48" width="10" height="7.44" fill="#4292c6"/>
<rect x="449" y="157.92" width="10" height="3.72" fill="#9ecae1"/>
<rect x="449" y="169.08" width="10" height="3.72" fill="#4292c6"/>
<rect x="449" y="183.96" width="10" height="7.44" fill="#4292c6"/>
<rect x="449" y="202.56" width="10" height="3.72" fill="#9ecae1"/>
<rect x="449" y="217.44" width="10" height="3.72" fill="#4292c6"/>
<rect x="449" y="224.88" width="10" height="3.72" fill="#4292c6"/>
<rect x="449" y="228.60" width="10" height="3.72" fill="#9ecae1"/>
<rect x="449" y="239.76" width="10" height="7.44" fill="#9ecae1"/>
<rect x="459" y="46.32" width="10" height="3.72" fill="#4292c6"/>
<rect x="459" y="53.76" width="10" height="3.72" fill="#2171b5"/>
<rect x="459" y="64.92" width="10" height="3.72" fill="#9ecae1"/>
<rect x="459" y="76.08" width="10" height="3.72" fill="#4292c6"/>
<rect x="459" y="87.24" width="10" height="3.72" fill="#9ecae1"/>
<rect x="459" y="90.96" width="10" height="3.72" fill="#2171b5"/>
<rect x="459" y="120.72" width="10" height="3.72" fill="#2171b5"/>
<rect x="459" y="128.16" width="10" height="7.44" fill="#9ecae1"/>
<rect x="459" y="135.60" width="10" height="3.72" fill="#4292c6"/>
<rect x="459" y="143.04" width="10" height="3.72" fill="#9ecae1"/>
<rect x="459" y="146.76" width="10" height="3.72" fill="#4292c6"/>
<rect x="459" y="157.92" width="10" height="3.72" fill="#4292c6"/>
<rect x="459" y="165.36" width="10" height="3.72" fill="#9ecae1"/>
<rect x="459" y="180.24" width="10" height="22.32" fill="#9ecae1"/>
<rect x="459" y="236.04" width="10" height="3.72" fill="#9ecae1"/>
<rect x="459" y="243.48" width="10" height="3.72" fill="#9ecae1"/>
<rect x="469" y="31.44" width="10" height="3.72" fill="#9ecae1"/>
<rect x="469" y="57.48" width="10" height="3.72" fill="#9ecae1"/>
<rect x="469" y="64.92" width="10" height="7.44" fill="#9ecae1"/>
<rect x="469" y="72.36" width="10" height="3.72" fill="#4292c6"/>
<rect x="469" y="90.96" width="10" height="3.72" fill="#4292c6"/>
<rect x="469" y="109.56" width="10" height="3.72" fill="#4292c6"/>
<rect x="469" y="113.28" width="10" height="7.44" fill="#9ecae1"/>
<rect x="469" y="120.72" width="10" height="3.72" fill="#08306b"/>
<rect x="469" y="124.44" width="10" height="3.72" fill="#9ecae1"/>
<rect x="469" y="131.88" width="10" height="3.72" fill="#9ecae1"/>
<rect x="469" y="146.76" width="10" height="3.72" fill="#4292c6"/>
<rect x="469" y="161.64" width="10" height="3.72" fill="#9ecae1"/>
<rect x="469" y="195.12" width="10" height="3.72" fill="#4292c6"/>
<rect x="469" y="210.00" width="10" height="3.72" fill="#4292c6"/>
<rect x="469" y="221.16" width="10" height="3.72" fill="#9ecae1"/>
<rect x="479" y="24.00" width="10" height="3.72" fill="#4292c6"/>
<rect x="479" y="27.72" width="10" height="11.16" fill="#9ecae1"/>
<rect x="479" y="42.60" width="10" height="26.04" fill="#9ecae1"/>
<rect x="479" y="72.36" width="10" height="3.72" fill="#4292c6"/>
<rect x="479" y="76.08" width="10" height="7.44" fill="#9ecae1"/>
<rect x="479" y="90.96" width="10" height="3.72" fill="#4292c6"/>
<rect x="479" y="98.40" width="10" height="3.72" fill="#9ecae1"/>
<rect x="479" y="105.84" width="10" height="7.44" fill="#4292c6"/>
<rect x="479" y="113.28" width="10" height="7.44" fill="#9ecae1"/>
<rect x="479" y="120.72" width="10" height="3.72" fill="#2171b5"/>
<rect x="479" y="124.44" width="10" height="3.72" fill="#9ecae1"/>
<rect x="479" y="131.88" width="10" height="3.72" fill="#9ecae1"/>
<rect x="479" y="143.04" width="10" height="3.72" fill="#9ecae1"/>
<rect x="479" y="146.76" width="10" height="3.72" fill="#4292c6"/>
<rect x="479" y="154.20" width="10" height="3.72" fill="#4292c6"/>
<rect x="479" y="157.92" width="10" height="3.72" fill="#9ecae1"/>
<rect x="479" y="165.36" width="10" height="3.72" fill="#9ecae1"/>
<rect x="479" y="191.40" width="10" height="11.16" fill="#4292c6"/>
<rect x="479" y="202.56" width="10" height="3.72" fill="#9ecae1"/>
<rect x="479" y="206.28" width="10" height="7.44" fill="#4292c6"/>
<rect x="479" y="221.16" width="10" height="3.72" fill="#9ecae1"/>
<rect x="479" y="224.88" width="10" height="3.72" fill="#4292c6"/>
<rect x="479" y="232.32" width="10" height="3.72" fill="#4292c6"/>
<rect x="479" y="239.76" width="10" height="3.72" fill="#9ecae1"/>
<rect x="489" y="27.72" width="10" height="3.72" fill="#2171b5"/>
<rect x="489" y="35.16" width="10" height="3.72" fill="#9ecae1"/>
<rect x="489" y="42.60" width="10" height="3.72" fill="#9ecae1"/>
<rect x="489" y="50.04" width="10" height="11.16" fill="#9ecae1"/>
<rect x="489" y="64.92" width="10" height="3.72" fill="#4292c6"/>
<rect x="489" y="68.64" width="10" height="3.72" fill="#9ecae1"/>
<rect x="489" y="72.36" width="10" height="3.72" fill="#4292c6"/>
<rect x="489" y="79.80" width="10" height="3.72" fill="#9ecae1"/>
<rect x="489" y="94.68" width="10" height="3.72" fill="#9ecae1"/>
<rect x="489" y="105.84" width="10" height="7.44" fill="#4292c6"/>
<rect x="489" y="113.28" width="10" height="7.44" fill="#9ecae1"/>
<rect x="489" y="124.44" width="10" height="3.72" fill="#9ecae1"/>
<rect x="489" y="128.16" width="10" height="3.72" fill="#4292c6"/>
<rect x="489" y="131.88" width="10" height="3.72" fill="#9ecae1"/>
<rect x="489" y="139.32" width="10" height="3.72" fill="#4292c6"/>
<rect x="489" y="146.76" width="10" height="3.72" fill="#4292c6"/>
<rect x="489" y="161.64" width="10" height="3.72" fill="#4292c6"/>
<rect x="489" y="165.36" width="10" height="3.72" fill="#9ecae1"/>
<rect x="489" y="183.96" width="10" height="3.72" fill="#9ecae1"/>
<rect x="489" y="191.40" width="10" height="3.72" fill="#4292c6"/>
<rect x="489" y="198.84" width="10" height="3.72" fill="#4292c6"/>
<rect x="489" y="210.00" width="10" height="3.72" fill="#4292c6"/>
<rect x="489" y="221.16" width="10" height="3.72" fill="#9ecae1"/>
<rect x="489" y="228.60" width="10" height="3.72" fill="#9ecae1"/>
<rect x="489" y="232.32" width="10" height="3.72" fill="#4292c6"/>
<rect x="489" y="236.04" width="10" height="3.72" fill="#9ecae1"/>
<rect x="489" y="239.76" width="10" height="3.72" fill="#4292c6"/>
<rect x="499" y="24.00" width="10" height="3.72" fill="#4292c6"/>
<rect x="499" y="27.72" width="10" height="7.44" fill="#9ecae1"/>
<rect x="499" y="42.60" width="10" height="3.72" fill="#9ecae1"/>
<rect x="499" y="50.04" width="10" height="3.72" fill="#9ecae1"/>
<rect x="499" y="57.48" width="10" height="3.72" fill="#9ecae1"/>
<rect x="499" y="64.92" width="10" height="7.44" fill="#9ecae1"/>
<rect x="499" y="72.36" width="10" height="3.72" fill="#4292c6"/>
<rect x="499" y="76.08" width="10" height="7.44" fill="#9ecae1"/>
<rect x="499" y="90.96" width="10" height="3.72" fill="#4292c6"/>
<rect x="499" y="98.40" width="10" height="3.72" fill="#9ecae1"/>
<rect x="499" y="102.12" width="10" height="3.72" fill="#4292c6"/>
<rect x="499" y="105.84" width="10" height="3.72" fill="#2171b5"/>
<rect x="499" y="109.56" width="10" height="3.72" fill="#4292c6"/>
<rect x="499" y="113.28" width="10" height="3.72" fill="#9ecae1"/>
<rect x="499" y="120.72" width="10" height="3.72" fill="#4292c6"/>
<rect x="499" y="128.16" width="10" height="3.72" fill="#4292c6"/>
<rect x="499" y="131.88" width="10" height="3.72" fill="#9ecae1"/>
<rect x="499" y="139.32" width="10" height="3.72" fill="#4292c6"/>
<rect x="499" y="146.76" width="10" height="3.72" fill="#4292c6"/>
<rect x="499" y="157.92" width="10" height="7.44" fill="#9ecae1"/>
<rect x="499" y="180.24" width="10" height="3.72" fill="#9ecae1"/>
<rect x="499" y="191.40" width="10" height="3.72" fill="#2171b5"/>
<rect x="499" y="195.12" width="10" height="3.72" fill="#4292c6"/>
<rect x="499" y="210.00" width="10" height="3.72" fill="#2171b5"/>
<rect x="499" y="232.32" width="10" height="3.72" fill="#2171b5"/>
<rect x="509" y="24.00" width="10" height="3.72" fill="#9ecae1"/>
<rect x="509" y="27.72" width="10" height="7.44" fill="#4292c6"/>
<rect x="509" y="46.32" width="10" height="3.72" fill="#9ecae1"/>
<rect x="509" y="53.76" width="10" height="3.72" fill="#9ecae1"/>
<rect x="509" y="64.92" width="10" height="3.72" fill="#9ecae1"/>
<rect x="509" y="68.64" width="10" height="3.72" fill="#4292c6"/>
<rect x="509" y="79.80" width="10" height="3.72" fill="#4292c6"/>
<rect x="509" y="94.68" width="10" height="11.16" fill="#4292c6"/>
<rect x="509" y="113.28" width="10" height="3.72" fill="#4292c6"/>
<rect x="509" y="120.72" width="10" height="7.44" fill="#4292c6"/>
<rect x="509" y="143.04" width="10" height="26.04" fill="#9ecae1"/>
<rect x="509" y="169.08" width="10" height="3.72" fill="#4292c6"/>
<rect x="509" y="176.52" width="10" height="7.44" fill="#9ecae1"/>
<rect x="509" y="183.96" width="10" height="3.72" fill="#4292c6"/>
<rect x="509" y="187.68" width="10" height="3.72" fill="#9ecae1"/>
<rect x="509" y="195.12" width="10" height="7.44" fill="#9ecae1"/>
<rect x="509" y="206.28" width="10" height="3.72" fill="#9ecae1"/>
<rect x="509" y="210.00" width="10" height="3.72" fill="#2171b5"/>
<rect x="509" y="213.72" width="10" height="3.72" fill="#4292c6"/>
<rect x="509" y="224.88" width="10" height="3.72" fill="#e6eef9"/>
<rect x="509" y="232.32" width="10" height="3.72" fill="#9ecae1"/>
<rect x="509" y="247.20" width="10" height="3.72" fill="#4292c6"/>
<rect x="519" y="27.72" width="10" height="3.72" fill="#4292c6"/>
<rect x="519" y="38.88" width="10" height="3.72" fill="#9ecae1"/>
<rect x="519" y="42.60" width="10" height="7.44" fill="#4292c6"/>
<rect x="519" y="87.24" width="10" height="3.72" fill="#4292c6"/>
<rect x="519" y="90.96" width="10" height="3.72" fill="#9ecae1"/>
<rect x="519" y="94.68" width="10" height="3.72" fill="#4292c6"/>
<rect x="519" y="98.40" width="10" height="3.72" fill="#9ecae1"/>
<rect x="519" y="117.00" width="10" height="3.72" fill="#4292c6"/>
<rect x="519" y="120.72" width="10" height="3.72" fill="#2171b5"/>
<rect x="519" y="135.60" width="10" height="7.44" fill="#9ecae1"/>
<rect x="519" y="143.04" width="10" height="3.72" fill="#2171b5"/>
<rect x="519" y="169.08" width="10" height="7.44" fill="#c9ddf0"/>
<rect x="519" y="180.24" width="10" height="3.72" fill="#9ecae1"/>
<rect x="519" y="183.96" width="10" height="3.72" fill="#4292c6"/>
<rect x="519" y="187.68" width="10" height="3.72" fill="#9ecae1"/>
<rect x="519" y="198.84" width="10" height="11.16" fill="#4292c6"/>
<rect x="519" y="217.44" width="10" height="7.44" fill="#9ecae1"/>
<rect x="529" y="24.00" width="10" height="3.72" fill="#9ecae1"/>
<rect x="529" y="38.88" width="10" height="3.72" fill="#2171b5"/>
<rect x="529" y="42.60" width="10" height="3.72" fill="#4292c6"/>
<rect x="529" y="61.20" width="10" height="3.72" fill="#9ecae1"/>
<rect x="529" y="64.92" width="10" height="7.44" fill="#4292c6"/>
<rect x="529" y="76.08" width="10" height="3.72" fill="#4292c6"/>
<rect x="529" y="94.68" width="10" height="3.72" fill="#9ecae1"/>
<rect x="529" y="109.56" width="10" height="3.72" fill="#9ecae1"/>
<rect x="529" y="120.72" width="10" height="3.72" fill="#2171b5"/>
<rect x="529" y="124.44" width="10" height="3.72" fill="#9ecae1"/>
<rect x="529" y="131.88" width="10" height="3.72" fill="#9ecae1"/>
<rect x="529" y="143.04" width="10" height="3.72" fill="#c9ddf0"/>
<rect x="529" y="150.48" width="10" height="3.72" fill="#9ecae1"/>
<rect x="529" y="165.36" width="10" height="7.44" fill="#9ecae1"/>
<rect x="529" y="176.52" width="10" height="3.72" fill="#4292c6"/>
<rect x="529" y="191.40" width="10" height="3.72" fill="#4292c6"/>
<rect x="529" y="206.28" width="10" height="3.72" fill="#4292c6"/>
<rect x="529" y="213.72" width="10" height="3.72" fill="#9ecae1"/>
<rect x="529" y="217.44" width="10" height="3.72" fill="#4292c6"/>
<rect x="529" y="221.16" width="10" height="3.72" fill="#9ecae1"/>
<rect x="529" y="239.76" width="10" height="3.72" fill="#4292c6"/>
<rect x="539" y="24.00" width="10" height="3.72" fill="#9ecae1"/>
<rect x="539" y="38.88" width="10" height="3.72" fill="#2171b5"/>
<rect x="539" y="42.60" width="10" height="3.72" fill="#4292c6"/>
<rect x="539" y="68.64" width="10" height="3.72" fill="#4292c6"/>
<rect x="539" y="76.08" width="10" height="3.72" fill="#4292c6"/>
<rect x="539" y="79.80" width="10" height="3.72" fill="#9ecae1"/>
<rect x="539" y="102.12" width="10" height="3.72" fill="#4292c6"/>
<rect x="539" y="109.56" width="10" height="3.72" fill="#9ecae1"/>
<rect x="539" y="117.00" width="10" height="3.72" fill="#4292c6"/>
<rect x="539" y="120.72" width="10" height="3.72" fill="#2171b5"/>
<rect x="539" y="124.44" width="10" height="3.72" fill="#4292c6"/>
<rect x="539" y="131.88" width="10" height="3.72" fill="#4292c6"/>
<rect x="539" y="146.76" width="10" height="3.72" fill="#4292c6"/>
<rect x="539" y="150.48" width="10" height="3.72" fill="#9ecae1"/>
<rect x="539" y="161.64" width="10" height="3.72" fill="#9ecae1"/>
<rect x="539" y="187.68" width="10" height="3.72" fill="#9ecae1"/>
<rect x="539" y="195.12" width="10" height="3.72" fill="#9ecae1"/>
<rect x="539" y="206.28" width="10" height="3.72" fill="#4292c6"/>
<rect x="539" y="210.00" width="10" height="7.44" fill="#9ecae1"/>
<rect x="539" y="217.44" width="10" height="3.72" fill="#4292c6"/>
<rect x="539" y="221.16" width="10" height="3.72" fill="#9ecae1"/>
<rect x="539" y="228.60" width="10" height="3.72" fill="#4292c6"/>
<rect x="539" y="232.32" width="10" height="3.72" fill="#9ecae1"/>
<rect x="539" y="239.76" width="10" height="3.72" fill="#9ecae1"/>
<rect x="539" y="247.20" width="10" height="3.72" fill="#9ecae1"/>
<rect x="549" y="27.72" width="10" height="3.72" fill="#589fce"/>
<rect x="549" y="31.44" width="10" height="3.72" fill="#9ecae1"/>
<rect x="549" y="42.60" width="10" height="3.72" fill="#9ecae1"/>
<rect x="549" y="50.04" width="10" height="3.72" fill="#9ecae1"/>
<rect x="549" y="64.92" width="10" height="18.60" fill="#9ecae1"/>
<rect x="549" y="83.52" width="10" height="3.72" fill="#08519c"/>
<rect x="549" y="98.40" width="10" height="3.72" fill="#4292c6"/>
<rect x="549" y="120.72" width="10" height="3.72" fill="#9ecae1"/>
<rect x="549" y="131.88" width="10" height="3.72" fill="#9ecae1"/>
<rect x="549" y="139.32" width="10" height="3.72" fill="#4292c6"/>
<rect x="549" y="165.36" width="10" height="3.72" fill="#9ecae1"/>
<rect x="549" y="169.08" width="10" height="3.72" fill="#4292c6"/>
<rect x="549" y="176.52" width="10" height="7.44" fill="#4292c6"/>
<rect x="549" y="195.12" width="10" height="3.72" fill="#2171b5"/>
<rect x="549" y="232.32" width="10" height="3.72" fill="#9ecae1"/>
<rect x="549" y="236.04" width="10" height="3.72" fill="#4292c6"/>
<rect x="549" y="243.48" width="10" height="7.44" fill="#9ecae1"/>
<rect x="559" y="24.00" width="10" height="3.72" fill="#2171b5"/>
<rect x="559" y="27.72" width="10" height="3.72" fill="#589fce"/>
<rect x="559" y="31.44" width="10" height="3.72" fill="#9ecae1"/>
<rect x="559" y="42.60" width="10" height="14.88" fill="#9ecae1"/>
<rect x="559" y="61.20" width="10" height="11.16" fill="#9ecae1"/>
<rect x="559" y="72.36" width="10" height="3.72" fill="#4292c6"/>
<rect x="559" y="76.08" width="10" height="7.44" fill="#9ecae1"/>
<rect x="559" y="83.52" width="10" height="3.72" fill="#4292c6"/>
<rect x="559" y="98.40" width="10" height="7.44" fill="#9ecae1"/>
<rect x="559" y="113.28" width="10" height="3.72" fill="#9ecae1"/>
<rect x="559" y="120.72" width="10" height="3.72" fill="#9ecae1"/>
<rect x="559" y="139.32" width="10" height="3.72" fill="#4292c6"/>
<rect x="559" y="150.48" width="10" height="3.72" fill="#4292c6"/>
<rect x="559" y="157.92" width="10" height="7.44" fill="#9ecae1"/>
<rect x="559" y="169.08" width="10" height="3.72" fill="#4292c6"/>
<rect x="559" y="183.96" width="10" height="18.60" fill="#4292c6"/>
<rect x="559" y="210.00" width="10" height="7.44" fill="#4292c6"/>
<rect x="559" y="221.16" width="10" height="3.72" fill="#9ecae1"/>
<rect x="559" y="228.60" width="10" height="3.72" fill="#4292c6"/>
<rect x="559" y="236.04" width="10" height="3.72" fill="#4292c6"/>
<rect x="559" y="239.76" width="10" height="3.72" fill="#9ecae1"/>
<rect x="569" y="27.72" width="10" height="3.72" fill="#9ecae1"/>
<rect x="569" y="53.76" width="10" height="3.72" fill="#9ecae1"/>
<rect x="569" y="64.92" width="10" height="3.72" fill="#9ecae1"/>
<rect x="569" y="79.80" width="10" height="7.44" fill="#9ecae1"/>
<rect x="569" y="94.68" width="10" height="3.72" fill="#9ecae1"/>
<rect x="569" y="102.12" width="10" height="3.72" fill="#9ecae1"/>
<rect x="569" y="113.28" width="10" height="3.72" fill="#9ecae1"/>
<rect x="569" y="128.16" width="10" height="3.72" fill="#4292c6"/>
<rect x="569" y="139.32" width="10" height="3.72" fill="#4292c6"/>
<rect x="569" y="143.04" width="10" height="3.72" fill="#9ecae1"/>
<rect x="569" y="172.80" width="10" height="3.72" fill="#4292c6"/>
<rect x="569" y="191.40" width="10" height="3.72" fill="#4292c6"/>
<rect x="569" y="195.12" width="10" height="3.72" fill="#08306b"/>
<rect x="569" y="224.88" width="10" height="3.72" fill="#9ecae1"/>
<rect x="569" y="228.60" width="10" height="3.72" fill="#86bcdc"/>
<rect x="569" y="232.32" width="10" height="3.72" fill="#4292c6"/>
<rect x="569" y="239.76" width="10" height="7.44" fill="#4292c6"/>
<rect x="579" y="31.44" width="10" height="3.72" fill="#9ecae1"/>
<rect x="579" y="42.60" width="10" height="14.88" fill="#9ecae1"/>
<rect x="579" y="61.20" width="10" height="3.72" fill="#4292c6"/>
<rect x="579" y="68.64" width="10" height="3.72" fill="#9ecae1"/>
<rect x="579" y="72.36" width="10" height="3.72" fill="#4292c6"/>
<rect x="579" y="76.08" width="10" height="3.72" fill="#9ecae1"/>
<rect x="579" y="79.80" width="10" height="7.44" fill="#4292c6"/>
<rect x="579" y="98.40" width="10" height="3.72" fill="#9ecae1"/>
<rect x="579" y="113.28" width="10" height="11.16" fill="#9ecae1"/>
<rect x="579" y="131.88" width="10" height="3.72" fill="#9ecae1"/>
<rect x="579" y="146.76" width="10" height="3.72" fill="#2171b5"/>
<rect x="579" y="150.48" width="10" height="3.72" fill="#4292c6"/>
<rect x="579" y="165.36" width="10" height="3.72" fill="#4292c6"/>
<rect x="579" y="172.80" width="10" height="7.44" fill="#9ecae1"/>
<rect x="579" y="195.12" width="10" height="7.44" fill="#4292c6"/>
<rect x="579" y="202.56" width="10" height="3.72" fill="#2171b5"/>
<rect x="579" y="206.28" width="10" height="3.72" fill="#9ecae1"/>
<rect x="579" y="213.72" width="10" height="3.72" fill="#9ecae1"/>
<rect x="579" y="217.44" width="10" height="3.72" fill="#4292c6"/>
<rect x="579" y="221.16" width="10" height="3.72" fill="#9ecae1"/>
<rect x="579" y="247.20" width="10" height="3.72" fill="#4292c6"/>
<rect x="589" y="24.00" width="10" height="3.72" fill="#4292c6"/>
<rect x="589" y="35.16" width="10" height="14.88" fill="#9ecae1"/>
<rect x="589" y="53.76" width="10" height="3.72" fill="#9ecae1"/>
<rect x="589" y="61.20" width="10" height="3.72" fill="#4292c6"/>
<rect x="589" y="64.92" width="10" height="7.44" fill="#9ecae1"/>
<rect x="589" y="98.40" width="10" height="3.72" fill="#9ecae1"/>
<rect x="589" y="102.12" width="10" height="7.44" fill="#4292c6"/>
<rect x="589" y="113.28" width="10" height="7.44" fill="#9ecae1"/>
<rect x="589" y="128.16" width="10" height="3.72" fill="#4292c6"/>
<rect x="589" y="131.88" width="10" height="3.72" fill="#9ecae1"/>
<rect x="589" y="146.76" width="10" height="3.72" fill="#4292c6"/>
<rect x="589" y="161.64" width="10" height="7.44" fill="#9ecae1"/>
<rect x="589" y="172.80" width="10" height="3.72" fill="#9ecae1"/>
<rect x="589" y="183.96" width="10" height="3.72" fill="#4292c6"/>
<rect x="589" y="187.68" width="10" height="3.72" fill="#2171b5"/>
<rect x="589" y="191.40" width="10" height="11.16" fill="#4292c6"/>
<rect x="589" y="202.56" width="10" height="3.72" fill="#9ecae1"/>
<rect x="589" y="213.72" width="10" height="3.72" fill="#9ecae1"/>
<rect x="589" y="221.16" width="10" height="3.72" fill="#9ecae1"/>
<rect x="589" y="228.60" width="10" height="3.72" fill="#4292c6"/>
<rect x="589" y="243.48" width="10" height="7.44" fill="#4292c6"/>
<rect x="599" y="24.00" width="10" height="3.72" fill="#4292c6"/>
<rect x="599" y="35.16" width="10" height="7.44" fill="#9ecae1"/>
<rect x="599" y="46.32" width="10" height="11.16" fill="#9ecae1"/>
<rect x="599" y="57.48" width="10" height="7.44" fill="#4292c6"/>
<rect x="599" y="64.92" width="10" height="7.44" fill="#9ecae1"/>
<rect x="599" y="76.08" width="10" height="3.72" fill="#9ecae1"/>
<rect x="599" y="79.80" width="10" height="3.72" fill="#4292c6"/>
<rect x="599" y="87.24" width="10" height="3.72" fill="#4292c6"/>
<rect x="599" y="94.68" width="10" height="3.72" fill="#4292c6"/>
<rect x="599" y="98.40" width="10" height="3.72" fill="#9ecae1"/>
<rect x="599" y="102.12" width="10" height="7.44" fill="#4292c6"/>
<rect x="599" y="113.28" width="10" height="3.72" fill="#9ecae1"/>
<rect x="599" y="120.72" width="10" height="3.72" fill="#9ecae1"/>
<rect x="599" y="131.88" width="10" height="3.72" fill="#9ecae1"/>
<rect x="599" y="146.76" width="10" height="7.44" fill="#4292c6"/>
<rect x="599" y="161.64" width="10" height="7.44" fill="#9ecae1"/>
<rect x="599" y="172.80" width="10" height="7.44" fill="#9ecae1"/>
<rect x="599" y="183.96" width="10" height="3.72" fill="#2171b5"/>
<rect x="599" y="187.68" width="10" height="3.72" fill="#4292c6"/>
<rect x="599" y="202.56" width="10" height="7.44" fill="#9ecae1"/>
<rect x="599" y="210.00" width="10" height="3.72" fill="#4292c6"/>
<rect x="599" y="224.88" width="10" height="7.44" fill="#4292c6"/>
<rect x="599" y="236.04" width="10" height="3.72" fill="#4292c6"/>
<rect x="609" y="42.60" width="10" height="14.88" fill="#9ecae1"/>
<rect x="609" y="61.20" width="10" height="3.72" fill="#4292c6"/>
<rect x="609" y="64.92" width="10" height="3.72" fill="#9ecae1"/>
<rect x="609" y="72.36" width="10" height="3.72" fill="#4292c6"/>
<rect x="609" y="76.08" width="10" height="3.72" fill="#9ecae1"/>
<rect x="609" y="79.80" width="10" height="3.72" fill="#2171b5"/>
<rect x="609" y="83.52" width="10" height="3.72" fill="#4292c6"/>
<rect x="609" y="98.40" width="10" height="3.72" fill="#9ecae1"/>
<rect x="609" y="113.28" width="10" height="7.44" fill="#9ecae1"/>
<rect x="609" y="131.88" width="10" height="7.44" fill="#9ecae1"/>
<rect x="609" y="146.76" width="10" height="3.72" fill="#4292c6"/>
<rect x="609" y="157.92" width="10" height="3.72" fill="#9ecae1"/>
<rect x="609" y="172.80" width="10" height="11.16" fill="#9ecae1"/>
<rect x="609" y="195.12" width="10" height="3.72" fill="#2171b5"/>
<rect x="609" y="202.56" width="10" height="3.72" fill="#4292c6"/>
<rect x="609" y="206.28" width="10" height="3.72" fill="#9ecae1"/>
<rect x="609" y="217.44" width="10" height="3.72" fill="#4292c6"/>
<rect x="609" y="239.76" width="10" height="7.44" fill="#4292c6"/>
<rect x="609" y="247.20" width="10" height="3.72" fill="#2171b5"/>
<rect x="619" y="24.00" width="10" height="3.72" fill="#4292c6"/>
<rect x="619" y="27.72" width="10" height="3.72" fill="#9ecae1"/>
<rect x="619" y="31.44" width="10" height="3.72" fill="#4292c6"/>
<rect x="619" y="42.60" width="10" height="3.72" fill="#4292c6"/>
<rect x="619" y="57.48" width="10" height="3.72" fill="#4292c6"/>
<rect x="619" y="68.64" width="10" height="3.72" fill="#4292c6"/>
<rect x="619" y="79.80" width="10" height="3.72" fill="#4292c6"/>
<rect x="619" y="87.24" width="10" height="3.72" fill="#2171b5"/>
<rect x="619" y="90.96" width="10" height="3.72" fill="#9ecae1"/>
<rect x="619" y="94.68" width="10" height="3.72" fill="#4292c6"/>
<rect x="619" y="102.12" width="10" height="3.72" fill="#4292c6"/>
<rect x="619" y="109.56" width="10" height="7.44" fill="#9ecae1"/>
<rect x="619" y="120.72" width="10" height="3.72" fill="#9ecae1"/>
<rect x="619" y="124.44" width="10" height="3.72" fill="#4292c6"/>
<rect x="619" y="128.16" width="10" height="3.72" fill="#2171b5"/>
<rect x="619" y="131.88" width="10" height="3.72" fill="#9ecae1"/>
<rect x="619" y="146.76" width="10" height="3.72" fill="#9ecae1"/>
<rect x="619" y="150.48" width="10" height="7.44" fill="#4292c6"/>
<rect x="619" y="161.64" width="10" height="3.72" fill="#4292c6"/>
<rect x="619" y="165.36" width="10" height="7.44" fill="#9ecae1"/>
<rect x="619" y="176.52" width="10" height="7.44" fill="#9ecae1"/>
<rect x="619" y="191.40" width="10" height="3.72" fill="#9ecae1"/>
<rect x="619" y="206.28" width="10" height="3.72" fill="#9ecae1"/>
<rect x="619" y="213.72" width="10" height="3.72" fill="#4292c6"/>
<rect x="619" y="236.04" width="10" height="3.72" fill="#9ecae1"/>
<rect x="629" y="38.88" width="10" height="7.44" fill="#4292c6"/>
<rect x="629" y="64.92" width="10" height="7.44" fill="#4292c6"/>
<rect x="629" y="87.24" width="10" height="3.72" fill="#9ecae1"/>
<rect x="629" y="90.96" width="10" height="3.72" fill="#4292c6"/>
<rect x="629" y="102.12" width="10" height="3.72" fill="#4292c6"/>
<rect x="629" y="131.88" width="10" height="3.72" fill="#08306b"/>
<rect x="629" y="161.64" width="10" height="3.72" fill="#9ecae1"/>
<rect x="629" y="172.80" width="10" height="7.44" fill="#9ecae1"/>
<rect x="629" y="202.56" width="10" height="3.72" fill="#4292c6"/>
<rect x="629" y="217.44" width="10" height="3.72" fill="#9ecae1"/>
<rect x="639" y="24.00" width="10" height="3.72" fill="#4292c6"/>
<rect x="639" y="38.88" width="10" height="3.72" fill="#9ecae1"/>
<rect x="639" y="57.48" width="10" height="3.72" fill="#2171b5"/>
<rect x="639" y="61.20" width="10" height="3.72" fill="#4292c6"/>
<rect x="639" y="68.64" width="10" height="7.44" fill="#9ecae1"/>
<rect x="639" y="102.12" width="10" height="3.72" fill="#9ecae1"/>
<rect x="639" y="109.56" width="10" height="7.44" fill="#9ecae1"/>
<rect x="639" y="131.88" width="10" height="11.16" fill="#9ecae1"/>
<rect x="639" y="146.76" width="10" height="3.72" fill="#9ecae1"/>
<rect x="639" y="165.36" width="10" height="11.16" fill="#4292c6"/>
<rect x="639" y="183.96" width="10" height="3.72" fill="#4292c6"/>
<rect x="639" y="191.40" width="10" height="3.72" fill="#4292c6"/>
<rect x="639" y="195.12" width="10" height="3.72" fill="#2171b5"/>
<rect x="639" y="206.28" width="10" height="7.44" fill="#4292c6"/>
<rect x="639" y="228.60" width="10" height="7.44" fill="#9ecae1"/>
<rect x="639" y="239.76" width="10" height="3.72" fill="#9ecae1"/>
<g fill="#eef5fb">
<rect x="308.65" y="24.0" width="0.7" height="226.92"/>
<rect x="338.65" y="24.0" width="0.7" height="226.92"/>
<rect x="358.65" y="24.0" width="0.7" height="226.92"/>
<rect x="368.65" y="24.0" width="0.7" height="226.92"/>
<rect x="378.65" y="24.0" width="0.7" height="226.92"/>
<rect x="398.65" y="24.0" width="0.7" height="226.92"/>
<rect x="408.65" y="24.0" width="0.7" height="226.92"/>
<rect x="418.65" y="24.0" width="0.7" height="226.92"/>
<rect x="438.65" y="24.0" width="0.7" height="226.92"/>
<rect x="448.65" y="24.0" width="0.7" height="226.92"/>
<rect x="468.65" y="24.0" width="0.7" height="226.92"/>
<rect x="508.65" y="24.0" width="0.7" height="226.92"/>
<rect x="518.65" y="24.0" width="0.7" height="226.92"/>
<rect x="528.65" y="24.0" width="0.7" height="226.92"/>
<rect x="548.65" y="24.0" width="0.7" height="226.92"/>
<rect x="568.65" y="24.0" width="0.7" height="226.92"/>
<rect x="578.65" y="24.0" width="0.7" height="226.92"/>
<rect x="618.65" y="24.0" width="0.7" height="226.92"/>
<rect x="638.65" y="24.0" width="0.7" height="226.92"/>
<rect x="299.0" y="135.35" width="350.0" height="0.5"/>
</g>
<g font-size="9px" fill="#000" text-anchor="middle">
<text x="304" y="22.6">-</text>
<text x="314" y="22.6">-</text>
<text x="324" y="24.2">+</text>
<text x="334" y="22.6">-</text>
<text x="344" y="22.6">-</text>
<text x="354" y="22.6">-</text>
<text x="364" y="22.6">-</text>
<text x="374" y="24.2">+</text>
<text x="384" y="22.6">-</text>
<text x="394" y="22.6">-</text>
<text x="404" y="24.2">+</text>
<text x="414" y="22.6">-</text>
<text x="424" y="22.6">-</text>
<text x="434" y="24.2">+</text>
<text x="444" y="22.6">-</text>
<text x="454" y="22.6">-</text>
<text x="464" y="24.2">+</text>
<text x="474" y="22.6">-</text>
<text x="484" y="22.6">-</text>
<text x="494" y="22.6">-</text>
<text x="504" y="22.6">-</text>
<text x="514" y="24.2">+</text>
<text x="524" y="24.2">+</text>
<text x="534" y="24.2">+</text>
<text x="544" y="24.2">+</text>
<text x="554" y="22.6">-</text>
<text x="564" y="22.6">-</text>
<text x="574" y="22.6">-</text>
<text x="584" y="22.6">-</text>
<text x="594" y="22.6">-</text>
<text x="604" y="22.6">-</text>
<text x="614" y="22.6">-</text>
<text x="624" y="24.2">+</text>
<text x="634" y="24.2">+</text>
<text x="644" y="22.6">-</text>
</g>
<g font-size="3.9px" fill="#111" text-anchor="middle">
<text x="304" y="255.7">3802</text>
<text x="314" y="255.7">4401</text>
<text x="324" y="255.7">3403</text>
<text x="334" y="255.7">2410</text>
<text x="344" y="255.7">9003</text>
<text x="354" y="255.7">4514</text>
<text x="364" y="255.7">1004</text>
<text x="374" y="255.7">7206</text>
<text x="384" y="255.7">6602</text>
<text x="394" y="255.7">3728</text>
<text x="404" y="255.7">7403</text>
<text x="414" y="255.7">8726</text>
<text x="424" y="255.7">5101</text>
<text x="434" y="255.7">7101</text>
<text x="444" y="255.7">2113</text>
<text x="454" y="255.7">8413</text>
<text x="464" y="255.7">8510</text>
<text x="474" y="255.7">9110</text>
<text x="484" y="255.7">9108</text>
<text x="494" y="255.7">9105</text>
<text x="504" y="255.7">9106</text>
<text x="514" y="255.7">7203</text>
<text x="524" y="255.7">6606</text>
<text x="534" y="255.7">4103</text>
<text x="544" y="255.7">4107</text>
<text x="554" y="255.7">9007</text>
<text x="564" y="255.7">9010</text>
<text x="574" y="255.7">1404</text>
<text x="584" y="255.7">8706</text>
<text x="594" y="255.7">8703</text>
<text x="604" y="255.7">8701</text>
<text x="614" y="255.7">9701</text>
<text x="624" y="255.7">7621</text>
<text x="634" y="255.7">7619</text>
<text x="644" y="255.7">6205</text>
</g>
<g stroke="#b8b8b8" stroke-width="0.6">
<line x1="311.2" y1="258.8" x2="337.5" y2="258.8"/>
<line x1="341.2" y1="258.8" x2="357.5" y2="258.8"/>
<line x1="381.2" y1="258.8" x2="397.5" y2="258.8"/>
<line x1="421.2" y1="258.8" x2="437.5" y2="258.8"/>
<line x1="451.2" y1="258.8" x2="467.5" y2="258.8"/>
<line x1="471.2" y1="258.8" x2="507.5" y2="258.8"/>
<line x1="531.2" y1="258.8" x2="547.5" y2="258.8"/>
<line x1="551.2" y1="258.8" x2="567.5" y2="258.8"/>
<line x1="581.2" y1="258.8" x2="617.5" y2="258.8"/>
<line x1="621.2" y1="258.8" x2="637.5" y2="258.8"/>
</g>
<g font-size="3.92px" fill="#111">
<g transform="translate(304.4,261.8) rotate(-45)">
<text x="0" y="1.4" text-anchor="end">Alpha-1B-glycoprotein</text>
</g>
<g transform="translate(324.5,262.2) rotate(-45)">
<text x="0" y="1.4" text-anchor="end">Alpha-2-antiplasmin</text>
</g>
<g transform="translate(349.7,262.2) rotate(-45)">
<text x="0" y="1.4" text-anchor="end">Alpha-2-macroglobulin</text>
</g>
<g transform="translate(365.1,261.8) rotate(-45)">
<text x="0" y="1.4" text-anchor="end">Apolipoprotein C-III</text>
</g>
<g transform="translate(375.4,263.1) rotate(-45)">
<text x="0" y="1.4" text-anchor="end">Beta-2-glycoprotein 1</text>
</g>
<g transform="translate(389.0,262.7) rotate(-45)">
<text x="0" y="1.4" text-anchor="end">Complement C1r</text>
<text x="-28.4" y="6.2" text-anchor="start">subcomponent</text>
</g>
<g transform="translate(406.5,262.7) rotate(-45)">
<text x="0" y="1.4" text-anchor="end">Complement C3 beta chain</text>
</g>
<g transform="translate(415.4,264.7) rotate(-45)">
<text x="0" y="1.4" text-anchor="end">Complement C3 alpha chain</text>
</g>
<g transform="translate(429.6,261.8) rotate(-45)">
<text x="0" y="1.4" text-anchor="end">Complement C4-B</text>
<text x="-31.0" y="6.2" text-anchor="start">(fragment)</text>
</g>
<g transform="translate(446.1,262.2) rotate(-45)">
<text x="0" y="1.4" text-anchor="end">Complement factor I light chain</text>
</g>
<g transform="translate(459.7,262.7) rotate(-45)">
<text x="0" y="1.4" text-anchor="end">Fibrinogen alpha chain</text>
</g>
<g transform="translate(489.6,263.1) rotate(-45)">
<text x="0" y="1.4" text-anchor="end">Fibrinogen alpha chain</text>
<text x="-38.5" y="6.2" text-anchor="start">(fragment)</text>
</g>
<g transform="translate(515.2,263.6) rotate(-45)">
<text x="0" y="1.4" text-anchor="end">Fibrinogen beta chain</text>
</g>
<g transform="translate(526.2,262.2) rotate(-45)">
<text x="0" y="1.4" text-anchor="end">Gelsolin</text>
</g>
<g transform="translate(542.2,261.8) rotate(-45)">
<text x="0" y="1.4" text-anchor="end">Haptoglobin</text>
</g>
<g transform="translate(559.6,262.2) rotate(-45)">
<text x="0" y="1.4" text-anchor="end">Ig kappa chain C region</text>
</g>
<g transform="translate(574.8,262.7) rotate(-45)">
<text x="0" y="1.4" text-anchor="end">Kininogen I</text>
</g>
<g transform="translate(602.0,262.1) rotate(-45)">
<text x="0" y="1.4" text-anchor="end">Plasminogen</text>
</g>
<g transform="translate(631.5,262.3) rotate(-45)">
<text x="0" y="1.4" text-anchor="end">Serotransferrin</text>
</g>
<g transform="translate(644.7,262.3) rotate(-45)">
<text x="0" y="1.4" text-anchor="end">Unidentified</text>
</g>
</g>
<g font-size="3.6px" fill="#1a1a1a" text-anchor="middle">
<text transform="translate(653.1,25.86) rotate(90) scale(0.8,1)" y="1.3">1</text>
<text transform="translate(653.1,29.58) rotate(90) scale(0.8,1)" y="1.3">2</text>
<text transform="translate(653.1,33.30) rotate(90) scale(0.8,1)" y="1.3">3</text>
<text transform="translate(653.1,37.02) rotate(90) scale(0.8,1)" y="1.3">4</text>
<text transform="translate(653.1,40.74) rotate(90) scale(0.8,1)" y="1.3">5</text>
<text transform="translate(653.1,44.46) rotate(90) scale(0.8,1)" y="1.3">6</text>
<text transform="translate(653.1,48.18) rotate(90) scale(0.8,1)" y="1.3">7</text>
<text transform="translate(653.1,51.90) rotate(90) scale(0.8,1)" y="1.3">8</text>
<text transform="translate(653.1,55.62) rotate(90) scale(0.8,1)" y="1.3">9</text>
<text transform="translate(653.1,59.34) rotate(90) scale(0.8,1)" y="1.3">10</text>
<text transform="translate(653.1,63.06) rotate(90) scale(0.8,1)" y="1.3">11</text>
<text transform="translate(653.1,66.78) rotate(90) scale(0.8,1)" y="1.3">12</text>
<text transform="translate(653.1,70.50) rotate(90) scale(0.8,1)" y="1.3">13</text>
<text transform="translate(653.1,74.22) rotate(90) scale(0.8,1)" y="1.3">14</text>
<text transform="translate(653.1,77.94) rotate(90) scale(0.8,1)" y="1.3">15</text>
<text transform="translate(653.1,81.66) rotate(90) scale(0.8,1)" y="1.3">16</text>
<text transform="translate(653.1,85.38) rotate(90) scale(0.8,1)" y="1.3">17</text>
<text transform="translate(653.1,89.10) rotate(90) scale(0.8,1)" y="1.3">18</text>
<text transform="translate(653.1,92.82) rotate(90) scale(0.8,1)" y="1.3">19</text>
<text transform="translate(653.1,96.54) rotate(90) scale(0.8,1)" y="1.3">20</text>
<text transform="translate(653.1,100.26) rotate(90) scale(0.8,1)" y="1.3">21</text>
<text transform="translate(653.1,103.98) rotate(90) scale(0.8,1)" y="1.3">22</text>
<text transform="translate(653.1,107.70) rotate(90) scale(0.8,1)" y="1.3">23</text>
<text transform="translate(653.1,111.42) rotate(90) scale(0.8,1)" y="1.3">24</text>
<text transform="translate(653.1,115.14) rotate(90) scale(0.8,1)" y="1.3">25</text>
<text transform="translate(653.1,118.86) rotate(90) scale(0.8,1)" y="1.3">26</text>
<text transform="translate(653.1,122.58) rotate(90) scale(0.8,1)" y="1.3">27</text>
<text transform="translate(653.1,126.30) rotate(90) scale(0.8,1)" y="1.3">28</text>
<text transform="translate(653.1,130.02) rotate(90) scale(0.8,1)" y="1.3">29</text>
<text transform="translate(653.1,133.74) rotate(90) scale(0.8,1)" y="1.3">30</text>
<text transform="translate(653.1,137.46) rotate(90) scale(0.8,1)" y="1.3">31</text>
<text transform="translate(653.1,141.18) rotate(90) scale(0.8,1)" y="1.3">32</text>
<text transform="translate(653.1,144.90) rotate(90) scale(0.8,1)" y="1.3">33</text>
<text transform="translate(653.1,148.62) rotate(90) scale(0.8,1)" y="1.3">34</text>
<text transform="translate(653.1,152.34) rotate(90) scale(0.8,1)" y="1.3">35</text>
<text transform="translate(653.1,156.06) rotate(90) scale(0.8,1)" y="1.3">36</text>
<text transform="translate(653.1,159.78) rotate(90) scale(0.8,1)" y="1.3">37</text>
<text transform="translate(653.1,163.50) rotate(90) scale(0.8,1)" y="1.3">38</text>
<text transform="translate(653.1,167.22) rotate(90) scale(0.8,1)" y="1.3">39</text>
<text transform="translate(653.1,170.94) rotate(90) scale(0.8,1)" y="1.3">40</text>
<text transform="translate(653.1,174.66) rotate(90) scale(0.8,1)" y="1.3">41</text>
<text transform="translate(653.1,178.38) rotate(90) scale(0.8,1)" y="1.3">42</text>
<text transform="translate(653.1,182.10) rotate(90) scale(0.8,1)" y="1.3">43</text>
<text transform="translate(653.1,185.82) rotate(90) scale(0.8,1)" y="1.3">44</text>
<text transform="translate(653.1,189.54) rotate(90) scale(0.8,1)" y="1.3">45</text>
<text transform="translate(653.1,193.26) rotate(90) scale(0.8,1)" y="1.3">46</text>
<text transform="translate(653.1,196.98) rotate(90) scale(0.8,1)" y="1.3">47</text>
<text transform="translate(653.1,200.70) rotate(90) scale(0.8,1)" y="1.3">48</text>
<text transform="translate(653.1,204.42) rotate(90) scale(0.8,1)" y="1.3">49</text>
<text transform="translate(653.1,208.14) rotate(90) scale(0.8,1)" y="1.3">50</text>
<text transform="translate(653.1,211.86) rotate(90) scale(0.8,1)" y="1.3">51</text>
<text transform="translate(653.1,215.58) rotate(90) scale(0.8,1)" y="1.3">52</text>
<text transform="translate(653.1,219.30) rotate(90) scale(0.8,1)" y="1.3">53</text>
<text transform="translate(653.1,223.02) rotate(90) scale(0.8,1)" y="1.3">54</text>
<text transform="translate(653.1,226.74) rotate(90) scale(0.8,1)" y="1.3">55</text>
<text transform="translate(653.1,230.46) rotate(90) scale(0.8,1)" y="1.3">56</text>
<text transform="translate(653.1,234.18) rotate(90) scale(0.8,1)" y="1.3">57</text>
<text transform="translate(653.1,237.90) rotate(90) scale(0.8,1)" y="1.3">58</text>
<text transform="translate(653.1,241.62) rotate(90) scale(0.8,1)" y="1.3">59</text>
<text transform="translate(653.1,245.34) rotate(90) scale(0.8,1)" y="1.3">60</text>
<text transform="translate(653.1,249.06) rotate(90) scale(0.8,1)" y="1.3">61</text>
</g>
<rect x="658" y="23.80" width="10.8" height="4.5" fill="#08306b"/>
<rect x="658" y="28.26" width="10.8" height="4.5" fill="#08519c"/>
<rect x="658" y="32.71" width="10.8" height="4.5" fill="#2171b5"/>
<rect x="658" y="37.17" width="10.8" height="4.5" fill="#4292c6"/>
<rect x="658" y="41.62" width="10.8" height="4.5" fill="#6baed6"/>
<rect x="658" y="46.08" width="10.8" height="4.5" fill="#9ecae1"/>
<rect x="658" y="50.54" width="10.8" height="4.5" fill="#c6dbef"/>
<rect x="658" y="54.99" width="10.8" height="4.5" fill="#deebf7"/>
<rect x="658" y="59.45" width="10.8" height="4.5" fill="#f7fbff"/>
<rect x="658" y="23.8" width="10.8" height="40.1" fill="none" stroke="#b5b5b5" stroke-width="0.4"/>
<g font-size="4.1px" fill="#111"><text x="670.4" y="27.7">High OD</text><text x="670.4" y="63.5">Low OD</text></g>
</g>
</svg></body></html>
